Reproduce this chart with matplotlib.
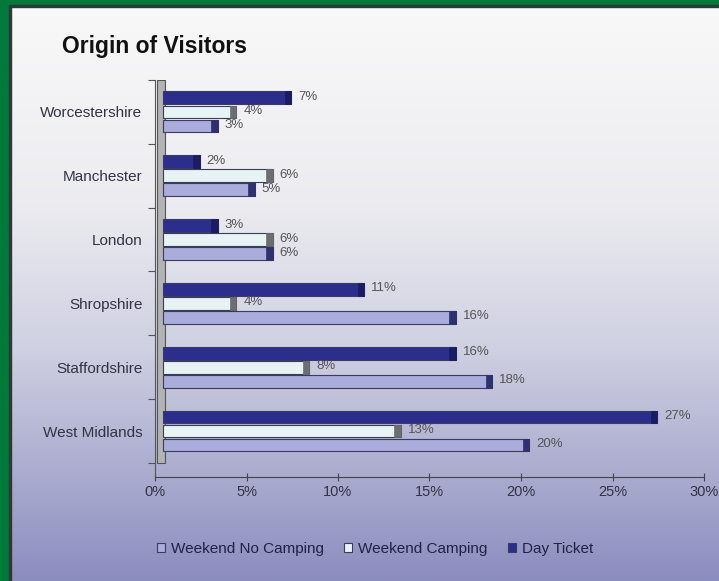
import numpy as np
import matplotlib
matplotlib.use("Agg")
import matplotlib.pyplot as plt
from matplotlib.colors import LinearSegmentedColormap
from matplotlib.patches import Rectangle
from matplotlib.transforms import offset_copy

plt.rcParams['font.family'] = ['Liberation Sans', 'DejaVu Sans']

# ---- data ----
categories = ["West Midlands", "Staffordshire", "Shropshire", "London", "Manchester", "Worcestershire"]
day_ticket = [27, 16, 11, 3, 2, 7]
weekend_camping = [13, 8, 4, 6, 6, 4]
weekend_no_camping = [20, 18, 16, 6, 5, 3]
series_names = ["Weekend No Camping", "Weekend Camping", "Day Ticket"]
x_ticks = [0, 5, 10, 15, 20, 25, 30]
title = "Origin of Visitors"

# ---- styling ----
c_day = "#2c2e8e"
c_camp = "#e8f3f3"
c_nocamp = "#aaaddc"
cap_day = "#1b1c66"
cap_camp = "#6b6f70"
cap_nocamp = "#2e3070"
edge = "#3a3c5c"

W, H = 719, 581
fig = plt.figure(figsize=(W / 100, H / 100), dpi=100)

# background gradient
bg = fig.add_axes([0, 0, 1, 1], zorder=-10)
cmap = LinearSegmentedColormap.from_list(
    "bg", [(0.0, "#f9f9f9"), (0.35, "#ececf0"), (0.6, "#cfd0e1"), (1.0, "#8c8dbf")])
grad = np.linspace(0, 1, 256).reshape(-1, 1)
bg.imshow(grad, aspect="auto", cmap=cmap, extent=[0, 1, 0, 1], origin="upper")
bg.set_xlim(0, 1)
bg.set_ylim(0, 1)
bg.axis("off")
# green border (left and top) with dark inner line
bg.add_patch(Rectangle((0, 0), 9 / W, 1, color="#007a3b", zorder=5, transform=bg.transAxes))
bg.add_patch(Rectangle((9 / W, 0), 1.5 / W, 1 - 5 / H, color="#2c3a33", zorder=5, transform=bg.transAxes))
bg.add_patch(Rectangle((0, 1 - 5 / H), 1, 5 / H, color="#007a3b", zorder=5, transform=bg.transAxes))
bg.add_patch(Rectangle((9 / W, 1 - 6.5 / H), 1, 1.5 / H, color="#2c3a33", zorder=5, transform=bg.transAxes))

fig.text(62 / W, 1 - 46 / H, title, fontsize=16.5, fontweight="bold", color="#111111",
         va="center", ha="left")

ax = fig.add_axes([155 / W, 1 - 477 / H, 549 / W, 397 / H])
ax.patch.set_alpha(0)
ax.set_xlim(0, 30)
ax.set_ylim(-0.72, 5.47)

y = np.arange(len(categories))
h = 0.2
off = 0.22
tr = offset_copy(ax.transData, fig=fig, x=8, y=0, units="dots")

# 3D-like back wall
ax.add_patch(Rectangle((0.1, -0.5), 0.45, 6.0, facecolor="#b3b3b3", edgecolor="#555555",
                       linewidth=0.8, zorder=1))

specs = [
    (day_ticket, off, c_day, cap_day),
    (weekend_camping, 0.0, c_camp, cap_camp),
    (weekend_no_camping, -off, c_nocamp, cap_nocamp),
]
handles = {}
for vals, dy, col, capc in specs:
    vals = np.array(vals, dtype=float)
    b = ax.barh(y + dy, vals, height=h, color=col, edgecolor=edge, linewidth=0.8,
                transform=tr, zorder=3)
    ax.barh(y + dy, np.full_like(vals, 0.35), left=vals - 0.35, height=h, color=capc,
            edgecolor=capc, linewidth=0.5, transform=tr, zorder=4)
    for yi, v in zip(y + dy, vals):
        ax.annotate(f"{int(v)}%", (v, yi), xycoords=tr, xytext=(7, 1),
                    textcoords="offset pixels", va="center", ha="left",
                    fontsize=9.5, color="#555555", zorder=5)
    handles[col] = b

# axes styling
for s in ["top", "right"]:
    ax.spines[s].set_visible(False)
ax.spines["left"].set_color("#555555")
ax.spines["bottom"].set_color("#444444")
ax.spines["left"].set_bounds(-0.72, 5.5)
ax.set_xticks(x_ticks)
ax.set_xticklabels([f"{t}%" for t in x_ticks], fontsize=10.5, color="#333344")
ax.tick_params(axis="x", direction="inout", length=6, color="#444444", pad=3)
ax.set_yticks(np.arange(-0.5, 6.0, 1.0))
ax.set_yticklabels([])
ax.tick_params(axis="y", which="major", direction="out", length=5, color="#555555")
ax.set_yticks(y, minor=True)
ax.set_yticklabels(categories, minor=True, fontsize=11, color="#333344")
ax.tick_params(axis="y", which="minor", length=0, pad=9)

leg = fig.legend([handles[c_nocamp], handles[c_camp], handles[c_day]], series_names,
                 loc="center", bbox_to_anchor=(375 / W, 1 - 549 / H), ncol=3, frameon=False,
                 fontsize=11, handlelength=0.55, handleheight=0.55, handletextpad=0.4,
                 columnspacing=1.3, labelcolor="#222244")

fig.savefig("out.png", dpi=100)
